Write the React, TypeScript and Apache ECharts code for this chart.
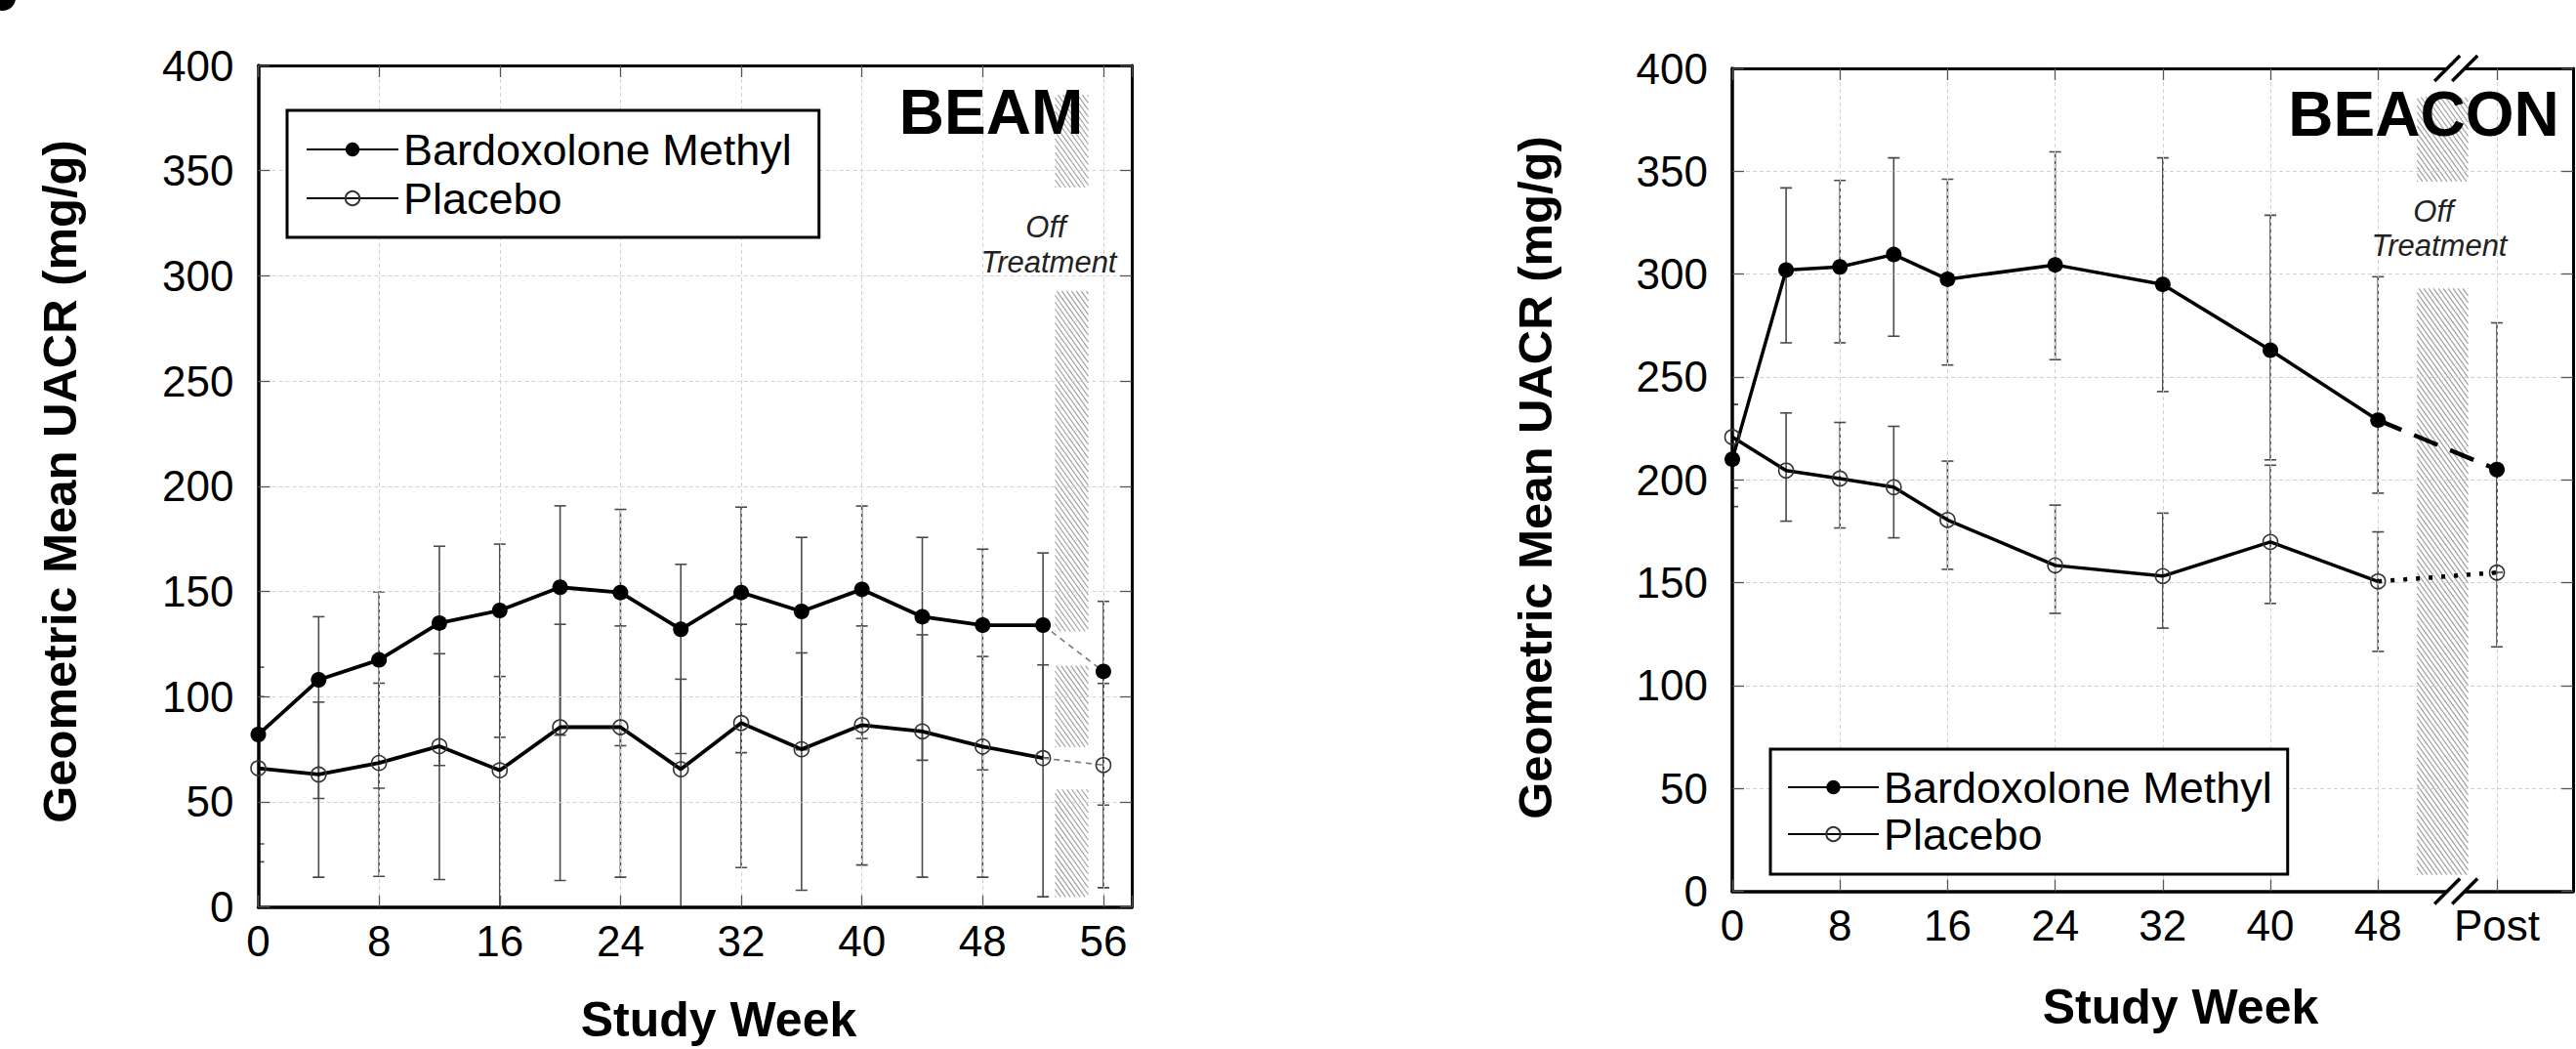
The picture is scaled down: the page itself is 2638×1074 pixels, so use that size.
import React, { useEffect, useRef } from "react";
import * as echarts from "echarts";

const FONT = '"Liberation Sans", Arial, Helvetica, sans-serif';

// ---------------- BEAM (left panel) ----------------
const beamWeeks = [0, 4, 8, 12, 16, 20, 24, 28, 32, 36, 40, 44, 48, 52, 56];
const beamBardoxolone = [82, 108, 117.5, 135, 141, 152, 149.5, 132, 149.5, 140.5, 151, 138, 134, 134, 112];
const beamBardoxoloneLow = [30, 51.6, 56.5, 67.3, 80.7, 81.7, 76.7, 73, 73.4, 74.7, 80.1, 69.8, 65.2, 71, 48.5];
const beamBardoxoloneHigh = [114, 138, 149.8, 171.5, 172.5, 190.7, 189, 162.9, 190.1, 175.7, 190.6, 175.7, 170.1, 168.3, 145.3];
const beamPlacebo = [66, 63, 68.5, 76.5, 65, 85.5, 85.5, 65.5, 87.5, 75, 86.5, 83.5, 76.3, 70.8, 67.5];
const beamPlaceboLow = [21.5, 14.2, 14.6, 13.1, 0, 12.6, 14.2, 0, 18.8, 8, 20, 14.2, 14.2, 4.9, 9.2];
const beamPlaceboHigh = [100, 97.4, 106.4, 120.4, 109.6, 134.4, 133.6, 108.3, 134.4, 120.8, 133.6, 129.4, 119.1, 115.1, 106.3];
const beamLastOnTreatment = 13; // index of week 52
const beamXMax = 57.88;
const beamOffTreatment = [52.8, 55.0];
const beamHatchBands = [
  [342, 386],
  [131, 292.7],
  [76, 114.7],
  [4.8, 55.9],
];

// ---------------- BEACON (right panel) ----------------
const beaconWeeks = [0, 4, 8, 12, 16, 24, 32, 40, 48, 56.84];
const beaconBardoxolone = [210, 302, 303.5, 309.5, 297.5, 304.5, 295, 263, 229, 205];
const beaconBardoxoloneLow = [187, 266.6, 266.6, 269.8, 255.8, 258.4, 242.9, 209.7, 193.5, 155];
const beaconBardoxoloneHigh = [236.6, 341.9, 345.5, 356.5, 346.1, 359.4, 356.5, 328.6, 298.7, 276.3];
const beaconPlacebo = [220.8, 204.5, 200.6, 196.4, 180.5, 158.4, 153.2, 169.8, 150.6, 154.9];
const beaconPlaceboLow = [196, 179.9, 176.6, 171.8, 156.5, 135.1, 127.9, 139.9, 116.6, 118.8];
const beaconPlaceboHigh = [236.6, 232.5, 227.9, 226, 209.1, 187.7, 183.8, 207.1, 174.7, 205];
const beaconLastOnTreatment = 8; // index of week 48
const beaconXMax = 62.5;
const beaconTickValues = [0, 8, 16, 24, 32, 40, 48, 56.84];
const beaconTickLabels = ["0", "8", "16", "24", "32", "40", "48", "Post"];
const beaconOffTreatment = [50.9, 54.7];
const beaconHatchBands = [
  [345, 386],
  [8, 293],
];
const beaconBreakX = 53.8;

// shared y axis
const yMin = 0;
const yMax = 400;
const yStep = 50;
const xStep = 8;

const seriesNames = ["Bardoxolone Methyl", "Placebo"];

// ---------------- render helpers ----------------
const hatchRender = (_params: any, api: any) => {
  const x0 = api.value(0);
  const x1 = api.value(1);
  const lo = api.value(2);
  const hi = api.value(3);
  const pTL = api.coord([x0, hi]);
  const pBR = api.coord([x1, lo]);
  const left = pTL[0];
  const top = pTL[1];
  const right = pBR[0];
  const bottom = pBR[1];
  const w = right - left;
  const h = bottom - top;
  const k = 1.4;
  const stepX = 5;
  const children: any[] = [];
  for (let u = -h + 1; u < k * w; u += k * stepX) {
    let xs, ys, xe, ye;
    if (u >= 0) {
      xs = left + u / k;
      ys = top;
    } else {
      xs = left;
      ys = top - u;
    }
    const xb = left + (u + h) / k;
    if (xb <= right) {
      xe = xb;
      ye = bottom;
    } else {
      xe = right;
      ye = top + k * w - u;
    }
    children.push({
      type: "line",
      shape: { x1: xs, y1: ys, x2: xe, y2: ye },
      style: { stroke: "#9c9c9c", lineWidth: 1.1 },
    });
  }
  return { type: "group", children };
};

const errorRender = (_params: any, api: any) => {
  const x = api.value(0);
  const lo = api.value(1);
  const hi = api.value(2);
  const pHi = api.coord([x, hi]);
  const pLo = api.coord([x, lo]);
  const cw = 6;
  const st = { stroke: "#4a4a4a", lineWidth: 1.6 };
  return {
    type: "group",
    children: [
      { type: "line", shape: { x1: pHi[0], y1: pHi[1], x2: pLo[0], y2: pLo[1] }, style: st },
      { type: "line", shape: { x1: pHi[0] - cw, y1: pHi[1], x2: pHi[0] + cw, y2: pHi[1] }, style: st },
      { type: "line", shape: { x1: pLo[0] - cw, y1: pLo[1], x2: pLo[0] + cw, y2: pLo[1] }, style: st },
    ],
  };
};

const breakRender = (_params: any, api: any) => {
  const p = api.coord([api.value(0), api.value(1)]);
  const cx = p[0];
  const cy = p[1];
  const d = 9;
  const e = 13;
  const st = { stroke: "#000", lineWidth: 3.5 };
  return {
    type: "group",
    children: [
      { type: "rect", shape: { x: cx - d, y: cy - 5, width: 2 * d, height: 10 }, style: { fill: "#fff" } },
      { type: "line", shape: { x1: cx - d - e, y1: cy + e, x2: cx - d + e, y2: cy - e }, style: st },
      { type: "line", shape: { x1: cx + d - e, y1: cy + e, x2: cx + d + e, y2: cy - e }, style: st },
    ],
  };
};

const axisLineBold = { show: true, onZero: false, lineStyle: { color: "#000", width: 3.5 } };
const axisLineThin = { show: true, onZero: false, lineStyle: { color: "#000", width: 3 } };
const tickStyle = { show: true, inside: true, length: 12, lineStyle: { color: "#555", width: 1.3 } };
const splitStyle = { show: true, lineStyle: { color: "#d2d2d2", width: 1, type: [4, 3] } };
const labelStyle = { fontSize: 44, fontFamily: FONT, color: "#000" };

function buildPanel(cfg: {
  grid: number;
  weeks: number[];
  bm: number[];
  bmLo: number[];
  bmHi: number[];
  pbo: number[];
  pboLo: number[];
  pboHi: number[];
  last: number;
  off: number[];
  bands: number[][];
  offBM: any;
  offPbo: any;
  lineWidth: number;
}) {
  const g = cfg.grid;
  const xi = g * 2;
  const yi = g * 2;
  const pair = (arr: number[], i: number) => [cfg.weeks[i], arr[i]];
  const onIdx = cfg.weeks.map((_, i) => i).filter((i) => i <= cfg.last);
  const offIdx = cfg.weeks.map((_, i) => i).filter((i) => i >= cfg.last);
  const openItem = { color: "rgba(255,255,255,0)", borderColor: "#333", borderWidth: 1.6 };
  return [
    {
      type: "custom",
      xAxisIndex: xi,
      yAxisIndex: yi,
      z: 1,
      silent: true,
      renderItem: hatchRender,
      encode: { x: [0, 1], y: [2, 3] },
      data: cfg.bands.map((b) => [cfg.off[0], cfg.off[1], b[0], b[1]]),
    },
    {
      type: "custom",
      xAxisIndex: xi,
      yAxisIndex: yi,
      z: 2,
      clip: true,
      silent: true,
      renderItem: errorRender,
      encode: { x: 0, y: [1, 2] },
      data: cfg.weeks.map((w, i) => [w, cfg.bmLo[i], cfg.bmHi[i]]),
    },
    {
      type: "custom",
      xAxisIndex: xi,
      yAxisIndex: yi,
      z: 2,
      clip: true,
      silent: true,
      renderItem: errorRender,
      encode: { x: 0, y: [1, 2] },
      data: cfg.weeks.map((w, i) => [w, cfg.pboLo[i], cfg.pboHi[i]]),
    },
    {
      type: "line",
      name: seriesNames[0],
      xAxisIndex: xi,
      yAxisIndex: yi,
      z: 5,
      data: onIdx.map((i) => pair(cfg.bm, i)),
      symbol: "circle",
      symbolSize: 16,
      itemStyle: { color: "#000" },
      lineStyle: { color: "#000", width: cfg.lineWidth },
    },
    {
      type: "line",
      name: seriesNames[1],
      xAxisIndex: xi,
      yAxisIndex: yi,
      z: 5,
      data: onIdx.map((i) => pair(cfg.pbo, i)),
      symbol: "circle",
      symbolSize: 15,
      itemStyle: openItem,
      lineStyle: { color: "#000", width: cfg.lineWidth },
    },
    {
      type: "line",
      name: seriesNames[0] + " (off treatment)",
      xAxisIndex: xi,
      yAxisIndex: yi,
      z: 5,
      data: offIdx.map((i, j) => (j === 0 ? { value: pair(cfg.bm, i), symbol: "none" } : pair(cfg.bm, i))),
      symbol: "circle",
      symbolSize: 16,
      itemStyle: { color: "#000" },
      lineStyle: cfg.offBM,
    },
    {
      type: "line",
      name: seriesNames[1] + " (off treatment)",
      xAxisIndex: xi,
      yAxisIndex: yi,
      z: 5,
      data: offIdx.map((i, j) => (j === 0 ? { value: pair(cfg.pbo, i), symbol: "none" } : pair(cfg.pbo, i))),
      symbol: "circle",
      symbolSize: 15,
      itemStyle: openItem,
      lineStyle: cfg.offPbo,
    },
  ];
}

const beaconLabel = (v: number) => {
  const i = beaconTickValues.findIndex((t) => Math.abs(t - v) < 1);
  return i >= 0 ? beaconTickLabels[i] : "";
};

const textStyle = (text: string, fontSize: number, extra: any = {}) => ({
  text,
  fontSize,
  fontFamily: FONT,
  fill: "#000",
  textAlign: "center",
  textVerticalAlign: "middle",
  align: "center",
  verticalAlign: "middle",
  ...extra,
});

export default function App() {
  const ref = useRef<HTMLDivElement>(null);

  useEffect(() => {
    document.body.style.margin = "0";
    if (!ref.current) return;
    const chart = echarts.init(ref.current, undefined, { renderer: "svg" });

    const yAxisBase = {
      type: "value",
      min: yMin,
      max: yMax,
      interval: yStep,
      z: 4,
    };

    const option: any = {
      animation: false,
      backgroundColor: "#fff",
      grid: [
        { left: 264.5, top: 67, width: 894.5, height: 861.7 },
        { left: 1774, top: 70, width: 861, height: 842.5 },
      ],
      xAxis: [
        {
          gridIndex: 0,
          type: "value",
          min: 0,
          max: beamXMax,
          interval: xStep,
          position: "bottom",
          z: 4,
          axisLine: axisLineBold,
          axisTick: tickStyle,
          splitLine: splitStyle,
          axisLabel: { ...labelStyle, margin: 13, formatter: (v: number) => (v % xStep === 0 ? String(v) : "") },
        },
        {
          gridIndex: 0,
          type: "value",
          min: 0,
          max: beamXMax,
          interval: xStep,
          position: "top",
          z: 4,
          axisLine: axisLineThin,
          axisTick: tickStyle,
          splitLine: { show: false },
          axisLabel: { show: false },
        },
        {
          gridIndex: 1,
          type: "value",
          min: 0,
          max: beaconXMax,
          interval: xStep,
          position: "bottom",
          z: 4,
          axisLine: axisLineBold,
          axisTick: { ...tickStyle, customValues: beaconTickValues },
          splitLine: splitStyle,
          axisLabel: { ...labelStyle, margin: 13, customValues: beaconTickValues, formatter: beaconLabel },
        },
        {
          gridIndex: 1,
          type: "value",
          min: 0,
          max: beaconXMax,
          interval: xStep,
          position: "top",
          z: 4,
          axisLine: axisLineThin,
          axisTick: { ...tickStyle, customValues: beaconTickValues },
          splitLine: { show: false },
          axisLabel: { show: false },
        },
      ],
      yAxis: [
        {
          ...yAxisBase,
          gridIndex: 0,
          position: "left",
          axisLine: axisLineBold,
          axisTick: tickStyle,
          splitLine: splitStyle,
          axisLabel: { ...labelStyle, margin: 25, padding: [0, 0, 10, 0] },
        },
        {
          ...yAxisBase,
          gridIndex: 0,
          position: "right",
          axisLine: axisLineThin,
          axisTick: tickStyle,
          splitLine: { show: false },
          axisLabel: { show: false },
        },
        {
          ...yAxisBase,
          gridIndex: 1,
          position: "left",
          axisLine: axisLineBold,
          axisTick: tickStyle,
          splitLine: splitStyle,
          axisLabel: { ...labelStyle, margin: 25, padding: [0, 0, 8, 0] },
        },
        {
          ...yAxisBase,
          gridIndex: 1,
          position: "right",
          axisLine: axisLineThin,
          axisTick: tickStyle,
          splitLine: { show: false },
          axisLabel: { show: false },
        },
      ],
      legend: [
        {
          left: 294,
          top: 113,
          orient: "vertical",
          data: seriesNames,
          selectedMode: false,
          itemWidth: 94,
          itemHeight: 18,
          itemGap: 0,
          padding: [15, 28, 15, 19],
          borderColor: "#000",
          borderWidth: 3,
          backgroundColor: "#fff",
          z: 6,
          textStyle: { fontSize: 45, fontFamily: FONT, color: "#000", lineHeight: 50 },
        },
        {
          left: 1813,
          top: 767,
          orient: "vertical",
          data: seriesNames,
          selectedMode: false,
          itemWidth: 93,
          itemHeight: 18,
          itemGap: 0,
          padding: [15, 16, 17, 17],
          borderColor: "#000",
          borderWidth: 3,
          backgroundColor: "#fff",
          z: 6,
          textStyle: { fontSize: 45, fontFamily: FONT, color: "#000", lineHeight: 48 },
        },
      ],
      series: [
        ...buildPanel({
          grid: 0,
          weeks: beamWeeks,
          bm: beamBardoxolone,
          bmLo: beamBardoxoloneLow,
          bmHi: beamBardoxoloneHigh,
          pbo: beamPlacebo,
          pboLo: beamPlaceboLow,
          pboHi: beamPlaceboHigh,
          last: beamLastOnTreatment,
          off: beamOffTreatment,
          bands: beamHatchBands,
          offBM: { color: "#7a7a7a", width: 1.6, type: [6, 5] },
          offPbo: { color: "#7a7a7a", width: 1.6, type: [6, 5] },
          lineWidth: 3.8,
        }),
        ...buildPanel({
          grid: 1,
          weeks: beaconWeeks,
          bm: beaconBardoxolone,
          bmLo: beaconBardoxoloneLow,
          bmHi: beaconBardoxoloneHigh,
          pbo: beaconPlacebo,
          pboLo: beaconPlaceboLow,
          pboHi: beaconPlaceboHigh,
          last: beaconLastOnTreatment,
          off: beaconOffTreatment,
          bands: beaconHatchBands,
          offBM: { color: "#000", width: 4.5, type: [26, 14] },
          offPbo: { color: "#000", width: 4.5, type: [4, 9] },
          lineWidth: 3.5,
        }),
        {
          type: "custom",
          xAxisIndex: 2,
          yAxisIndex: 2,
          z: 10,
          clip: false,
          silent: true,
          renderItem: breakRender,
          encode: { x: 0, y: 1 },
          data: [
            [beaconBreakX, yMax],
            [beaconBreakX, yMin],
          ],
        },
      ],
      graphic: [
        { type: "circle", z: 10, shape: { cx: 3, cy: -2, r: 13 }, style: { fill: "#000" } },
        {
          type: "text",
          z: 10,
          x: 61,
          y: 493,
          rotation: Math.PI / 2,
          style: textStyle("Geometric Mean UACR (mg/g)", 49, { fontWeight: "bold" }),
        },
        {
          type: "text",
          z: 10,
          x: 1572,
          y: 489,
          rotation: Math.PI / 2,
          style: textStyle("Geometric Mean UACR (mg/g)", 49, { fontWeight: "bold" }),
        },
        { type: "text", z: 10, x: 736, y: 1044, style: textStyle("Study Week", 50, { fontWeight: "bold" }) },
        { type: "text", z: 10, x: 2233, y: 1031, style: textStyle("Study Week", 50, { fontWeight: "bold" }) },
        { type: "text", z: 10, x: 1015, y: 115, style: textStyle("BEAM", 64, { fontWeight: "bold" }) },
        { type: "text", z: 10, x: 2482, y: 117, style: textStyle("BEACON", 64, { fontWeight: "bold" }) },
        ...[
          { t: "Off", x: 1071, y: 232 },
          { t: "Treatment", x: 1074, y: 268 },
          { t: "Off", x: 2492, y: 216 },
          { t: "Treatment", x: 2498, y: 251 },
        ].map((o) => ({
          type: "text",
          z: 10,
          x: o.x,
          y: o.y,
          style: textStyle(o.t, 31, { fontStyle: "italic", fill: "#222" }),
        })),
      ],
    };

    chart.setOption(option);
    return () => {
      chart.dispose();
    };
  }, []);

  return <div ref={ref} style={{ width: 2638, height: 1074 }} />;
}
